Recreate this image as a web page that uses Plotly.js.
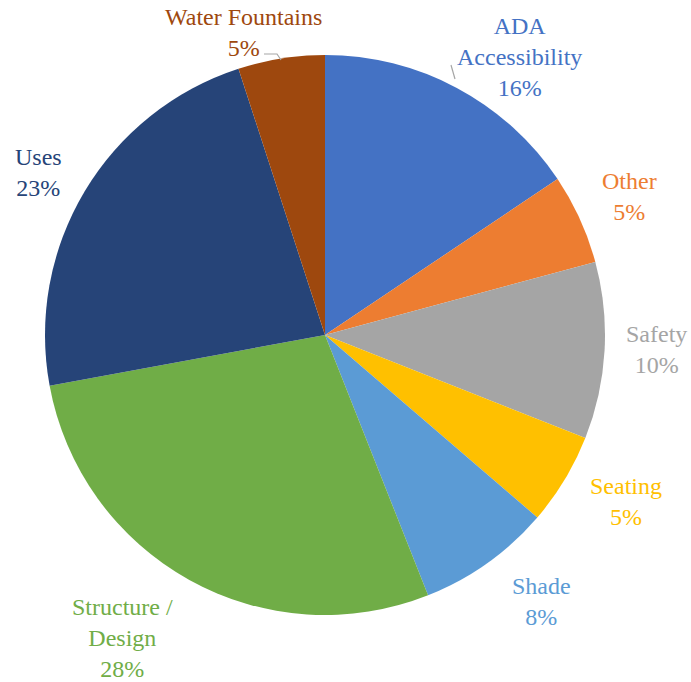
<!DOCTYPE html>
<html>
<head>
<meta charset="utf-8">
<script src="https://cdn.plot.ly/plotly-3.0.1.min.js"></script>
<style>html,body{margin:0;padding:0;background:#fff}#chart{width:691px;height:682px}</style>
</head>
<body>
<div id="chart"></div>
<script>
const categories = ["ADA Accessibility", "Other", "Safety", "Seating", "Shade", "Structure / Design", "Uses", "Water Fountains"];
const labelText = ["ADA<br>Accessibility", "Other", "Safety", "Seating", "Shade", "Structure /<br>Design", "Uses", "Water Fountains"];
const values = [15.6, 5.2, 10.2, 5.3, 7.7, 28.1, 22.9, 5.0];
const colors = ["#4472C4", "#ED7D31", "#A5A5A5", "#FFC000", "#5B9BD5", "#70AD47", "#264478", "#9E480E"];

// layout: label block centres in pixels (layout only, not data)
const labelPos = [[519, 57], [629, 197], [656, 349], [626, 501], [541, 601], [122, 638], [38, 172], [243, 33]];

const W = 691, H = 682;
const cx = 325, cy = 335, R = 280;
const total = values.reduce((a, b) => a + b, 0);

const trace = {
  type: "pie",
  labels: categories,
  values: values,
  sort: false,
  direction: "clockwise",
  rotation: 0,
  marker: {colors: colors, line: {width: 0}},
  textinfo: "none",
  hoverinfo: "label+percent",
  showlegend: false,
  domain: {x: [(cx - R) / W, (cx + R) / W], y: [(H - cy - R) / H, (H - cy + R) / H]}
};

const annotations = values.map((v, i) => ({
  x: labelPos[i][0] / W, y: 1 - labelPos[i][1] / H, xref: "paper", yref: "paper",
  xanchor: "center", yanchor: "middle", showarrow: false,
  text: labelText[i] + "<br>" + Math.round(v / total * 100) + "%",
  font: {family: "Liberation Serif, serif", size: 24, color: colors[i]},
  align: "center"
}));

const px = (x) => x / W, py = (y) => 1 - y / H;
const lineStyle = {color: "#A6A6A6", width: 1.2};
const shapes = [
  {type: "path", xref: "paper", yref: "paper",
   path: `M ${px(264)} ${py(54)} L ${px(277)} ${py(54)} L ${px(281)} ${py(60)}`, line: lineStyle},
  {type: "path", xref: "paper", yref: "paper",
   path: `M ${px(451)} ${py(65)} L ${px(455)} ${py(79)}`, line: lineStyle}
];

const layout = {
  width: W, height: H,
  margin: {l: 0, r: 0, t: 0, b: 0},
  paper_bgcolor: "#ffffff",
  plot_bgcolor: "#ffffff",
  annotations: annotations,
  shapes: shapes
};

Plotly.newPlot("chart", [trace], layout, {displayModeBar: false, staticPlot: true});
</script>
</body>
</html>
